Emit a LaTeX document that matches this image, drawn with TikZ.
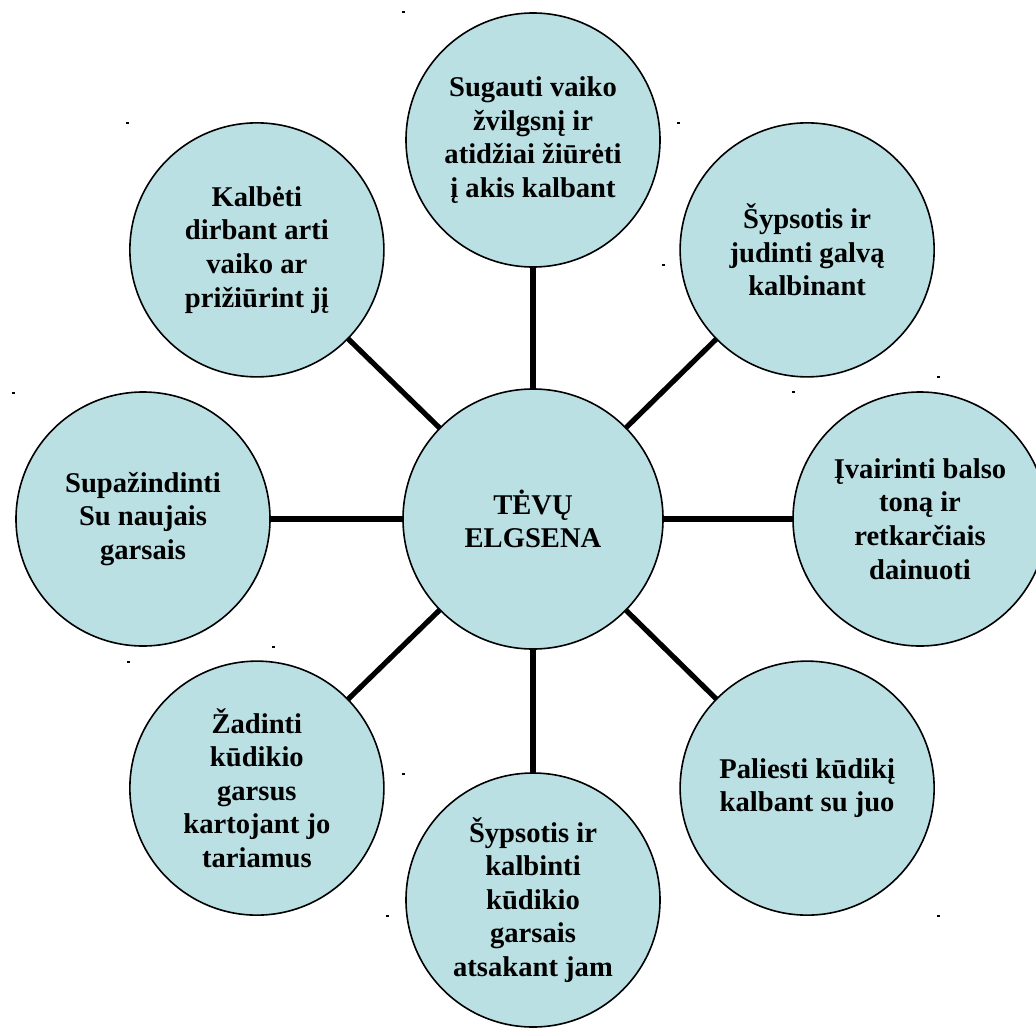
\documentclass[tikz,border=0pt]{standalone}
\usepackage{fontspec}
\setmainfont{Liberation Serif}
\usetikzlibrary{positioning}
\definecolor{bubblefill}{RGB}{187,224,228}

\begin{document}
\begin{tikzpicture}[x=0.5pt, y=-0.5pt,
  font=\fontsize{14.3}{16.8}\selectfont\bfseries,
  bubble/.style={draw, circle, fill=bubblefill, line width=0.8pt, inner sep=0pt, outer sep=0pt, align=center, minimum size=127pt},
  spoke/.style={line width=2.6pt}]

\useasboundingbox (0,0) rectangle (1036,1027);

% Nodes
\node[bubble, minimum size=130pt] (tevai) at (533,519) {TĖVŲ\\ELGSENA};

\node[bubble, above=61pt of tevai] (zvilgsnis) {Sugauti vaiko\\žvilgsnį ir\\atidžiai žiūrėti\\į akis kalbant};
\node[bubble, above right=43.7pt and 46.2pt of tevai] (galva) {Šypsotis ir\\judinti galvą\\kalbinant};
\node[bubble, right=65pt of tevai] (balsas) {Įvairinti balso\\toną ir\\retkarčiais\\dainuoti};
\node[bubble, below right=43.7pt and 46.2pt of tevai] (liesti) {Paliesti kūdikį\\kalbant su juo};
\node[bubble, below=62pt of tevai] (atsakyti) {Šypsotis ir\\kalbinti\\kūdikio\\garsais\\atsakant jam};
\node[bubble, below left=43.7pt and 47.2pt of tevai] (kartoti) {Žadinti\\kūdikio\\garsus\\kartojant jo\\tariamus};
\node[bubble, left=66.5pt of tevai] (garsai) {Supažindinti\\Su naujais\\garsais};
\node[bubble, above left=43.7pt and 47.2pt of tevai] (kalbeti) {Kalbėti\\dirbant arti\\vaiko ar\\prižiūrint jį};

% Lines
\foreach \leaf in {zvilgsnis, galva, balsas, liesti, atsakyti, kartoti, garsai, kalbeti}
  \draw[spoke] (tevai) -- (\leaf);

% stray dots
\foreach \x/\y in {403/12, 678/123, 127/123, 663/265, 938/377, 793/392, 13/393, 273/647, 128/662, 403/774, 387/916, 938/916}
  \fill (\x-1,\y-1) rectangle +(3,2);

\end{tikzpicture}
\end{document}
